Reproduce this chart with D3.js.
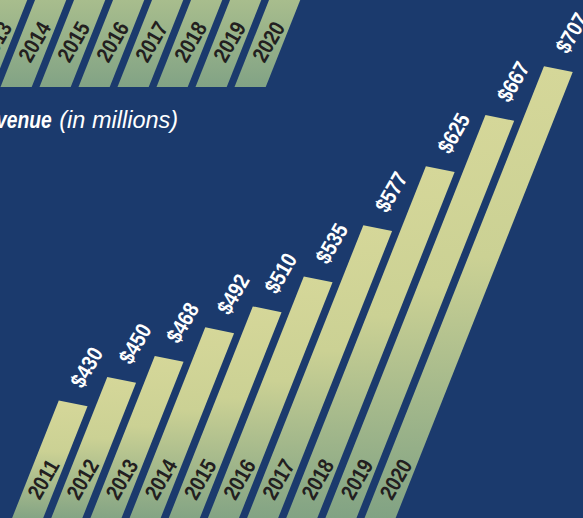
<!DOCTYPE html>
<html>
<head>
<meta charset="utf-8">
<script src="https://cdn.jsdelivr.net/npm/d3@7"></script>
<style>
html,body{margin:0;padding:0;background:#1b3a6d;overflow:hidden;}
svg{display:block;}
</style>
</head>
<body>
<div id="chart"></div>
<script>
// ---- data ----
const years = [2011, 2012, 2013, 2014, 2015, 2016, 2017, 2018, 2019, 2020];
const revenue = [430, 450, 468, 492, 510, 535, 577, 625, 667, 707];
const valueLabels = ["$430", "$450", "$468", "$492", "$510", "$535", "$577", "$625", "$667", "$707"];
const yearLabels = ["2011", "2012", "2013", "2014", "2015", "2016", "2017", "2018", "2019", "2020"];
// upper (cropped) panel: its bars run past the top of the frame, values not visible
const upperYears = [2011, 2012, 2013, 2014, 2015, 2016, 2017, 2018, 2019, 2020];
const upperValues = [120, 120, 120, 120, 120, 120, 120, 120, 120, 120];
const titleBold = "Revenue";
const titleLight = "(in millions)";

const W = 583, H = 518;
const svg = d3.select("#chart").append("svg").attr("width", W).attr("height", H);
svg.append("rect").attr("width", W).attr("height", H).attr("fill", "#1b3a6d");

const defs = svg.append("defs");
const grad = defs.append("linearGradient").attr("id", "barGrad")
  .attr("x1", 0).attr("y1", 0).attr("x2", 0).attr("y2", 1);
grad.append("stop").attr("offset", 0).attr("stop-color", "#d5d799");
grad.append("stop").attr("offset", 0.4).attr("stop-color", "#cbd194");
grad.append("stop").attr("offset", 1).attr("stop-color", "#7a9e82");

const gradUp = defs.append("linearGradient").attr("id", "upGrad")
  .attr("gradientUnits", "userSpaceOnUse")
  .attr("x1", 0).attr("y1", -87).attr("x2", 0).attr("y2", 0);
gradUp.append("stop").attr("offset", 0).attr("stop-color", "#a8bd8d");
gradUp.append("stop").attr("offset", 1).attr("stop-color", "#82a385");

const FONT = "'Liberation Sans', Arial, sans-serif";
const SQ = 0.86; // condensed look

// ---- main (skewed) frame ----
const M = {a: 1, b: 0.0456, c: -0.397, d: 1, e: -157, f: 944};
const toScreen = (u, w) => [M.a * u + M.c * w + M.e, M.b * u + M.d * w + M.f];

const x = d3.scaleBand().domain(years).range([0, 376.7]).paddingInner(0.207).paddingOuter(0);
const y = d3.scaleLinear().domain([0, 800]).range([0, -1011.2]);
const floorValue = 330;
const bw = x.bandwidth();
const topSlant = 4.4;

const gMain = svg.append("g")
  .attr("transform", `matrix(${M.a},${M.b},${M.c},${M.d},${M.e},${M.f})`);

gMain.selectAll("path.bar").data(years).join("path")
  .attr("class", "bar")
  .attr("fill", "url(#barGrad)")
  .attr("d", (yr, i) => {
    const u = x(yr), wt = y(revenue[i]), wb = y(floorValue);
    return `M${u},${wt}L${u + bw},${wt + topSlant}L${u + bw},${wb}L${u},${wb}Z`;
  });

const labels = svg.append("g");
// value labels
labels.selectAll("text.val").data(years).join("text")
  .attr("class", "val")
  .attr("transform", (yr, i) => {
    const [sx, sy] = toScreen(x(yr) + bw / 2, y(revenue[i]) + topSlant / 2);
    return `translate(${sx + 2.5},${sy - 18}) rotate(-60) scale(${SQ},1)`;
  })
  .attr("text-anchor", "start")
  .attr("dominant-baseline", "central")
  .attr("fill", "#ffffff")
  .attr("font-family", FONT)
  .attr("font-weight", "bold")
  .attr("font-size", 22)
  .text((yr, i) => valueLabels[i]);

// year labels inside bars
const yearY = 479;
labels.selectAll("text.yr").data(years).join("text")
  .attr("class", "yr")
  .attr("transform", (yr, i) => {
    const uc = x(yr) + bw / 2;
    const w = yearY - M.f - M.b * uc;
    const [sx, sy] = toScreen(uc, w);
    return `translate(${sx},${sy}) rotate(-60) scale(${SQ},1)`;
  })
  .attr("text-anchor", "middle")
  .attr("dominant-baseline", "central")
  .attr("fill", "#231f20")
  .attr("font-family", FONT)
  .attr("font-weight", "bold")
  .attr("font-size", 22)
  .text((yr, i) => yearLabels[i]);

// ---- upper cropped panel ----
const Mu = {c: -0.397, e: -116.5, f: 87};
const xu = d3.scaleBand().domain(upperYears).range([0, 382.2]).paddingInner(0.2).paddingOuter(0);
const yu = d3.scaleLinear().domain([0, 100]).range([0, -100]);
const bwu = xu.bandwidth();
const gUp = svg.append("g").attr("transform", `matrix(1,0,${Mu.c},1,${Mu.e},${Mu.f})`);
gUp.selectAll("rect").data(upperYears).join("rect")
  .attr("x", d => xu(d))
  .attr("y", (d, i) => yu(upperValues[i]))
  .attr("width", bwu)
  .attr("height", (d, i) => yu(0) - yu(upperValues[i]))
  .attr("fill", "url(#upGrad)");

const upLabelY = 41.5;
svg.append("g").selectAll("text").data(upperYears).join("text")
  .attr("transform", d => {
    const uc = xu(d) + bwu / 2;
    const w = upLabelY - Mu.f;
    return `translate(${uc + Mu.c * w + Mu.e},${upLabelY}) rotate(-60) scale(${SQ},1)`;
  })
  .attr("text-anchor", "middle")
  .attr("dominant-baseline", "central")
  .attr("fill", "#231f20")
  .attr("font-family", FONT)
  .attr("font-weight", "bold")
  .attr("font-size", 22)
  .text(d => String(d));

// ---- title ----
svg.append("text")
  .attr("transform", "translate(51.7,128) scale(0.82,1)")
  .attr("text-anchor", "end")
  .attr("fill", "#ffffff")
  .attr("font-family", FONT)
  .attr("font-weight", "bold")
  .attr("font-style", "italic")
  .attr("font-size", 23.5)
  .text(titleBold);
svg.append("text")
  .attr("x", 59.3).attr("y", 128)
  .attr("fill", "#ffffff")
  .attr("font-family", FONT)
  .attr("font-style", "italic")
  .attr("font-size", 23.5)
  .text(titleLight);
</script>
</body>
</html>
